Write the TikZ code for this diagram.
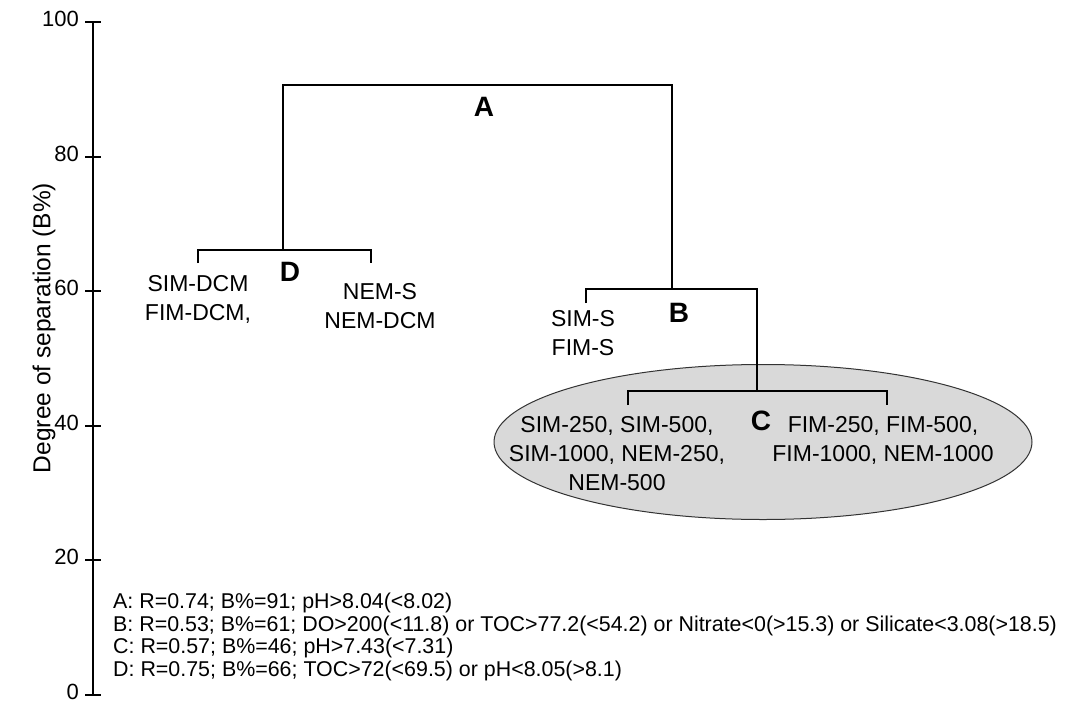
\documentclass[tikz,border=0pt]{standalone}
\usepackage{fontspec}
\setmainfont{Liberation Sans}
\usetikzlibrary{shapes.geometric}

\begin{document}
\begin{tikzpicture}[x=1pt, y=-1pt,
  every node/.style={inner sep=0pt, text=black},
  tree/.style={draw=black, line width=2pt},
  axis/.style={draw=black, line width=2pt},
  leaf/.style={font=\fontsize{23}{29}\selectfont, align=center},
  cluster/.style={font=\fontsize{28}{28}\selectfont\bfseries},
  ticklbl/.style={font=\fontsize{22}{22}\selectfont, anchor=east},
  note/.style={font=\fontsize{21.4}{21.4}\selectfont, anchor=west},
  group/.style={ellipse, draw=black!80, fill=black!15, line width=1pt,
    minimum width=538pt, minimum height=155pt}
]
\useasboundingbox (0,0) rectangle (1068,704);

% y axis
\coordinate (ybot) at (93,695);
\coordinate (ytop) at (93,22);
\draw[axis] (ybot) -- (ytop);
\foreach \v in {0,20,...,100} {
  \draw[axis] (85,{695-6.73*\v}) -- (101,{695-6.73*\v});
  \node[ticklbl] (tick\v) at (79,{692-6.73*\v}) {\v};
}
\node[font=\fontsize{24.5}{24.5}\selectfont, rotate=90] (ylabel) at (44,328) {Degree of separation (B\%)};

% shaded group C
\node[group] (Cgroup) at (763,442) {};

% dendrogram
\coordinate (Abar) at (283,85);
\coordinate (Dtop) at (283,250);
\coordinate (Dl) at (198,263);
\coordinate (Dr) at (371,263);
\coordinate (Btop) at (672,289);
\coordinate (Bl) at (586,303);
\coordinate (Ctop) at (757,391);
\coordinate (Cl) at (628,405);
\coordinate (Cr) at (887,405);
\draw[tree] (Dtop) -- (Abar) -| (Btop);
\draw[tree] (Dl) |- (Dtop) -| (Dr);
\draw[tree] (Bl) |- (Btop) -| (Ctop);
\draw[tree] (Cl) |- (Ctop) -| (Cr);

\node[cluster] (A) at (484,107) {A};
\node[cluster] (D) at (290,272) {D};
\node[cluster] (B) at (679,313) {B};
\node[cluster] (C) at (761,421) {C};

\node[leaf] (simdcm) at (198,299) {SIM-DCM\\FIM-DCM,};
\node[leaf] (nems) at (380,306) {NEM-S\\NEM-DCM};
\node[leaf] (sims) at (583,333) {SIM-S\\FIM-S};
\node[leaf] (cleft) at (617,454) {SIM-250, SIM-500,\\SIM-1000, NEM-250,\\NEM-500};
\node[leaf] (cright) at (883,440) {FIM-250, FIM-500,\\FIM-1000, NEM-1000};

% legend
\node[note] (legA) at (113,603) {A: R=0.74; B\%=91; pH>8.04(<8.02)};
\node[note] (legB) at (113,626) {B: R=0.53; B\%=61; DO>200(<11.8) or TOC>77.2(<54.2) or Nitrate<0(>15.3) or Silicate<3.08(>18.5)};
\node[note] (legC) at (113,648) {C: R=0.57; B\%=46; pH>7.43(<7.31)};
\node[note] (legD) at (113,671) {D: R=0.75; B\%=66; TOC>72(<69.5) or pH<8.05(>8.1)};
\end{tikzpicture}
\end{document}
